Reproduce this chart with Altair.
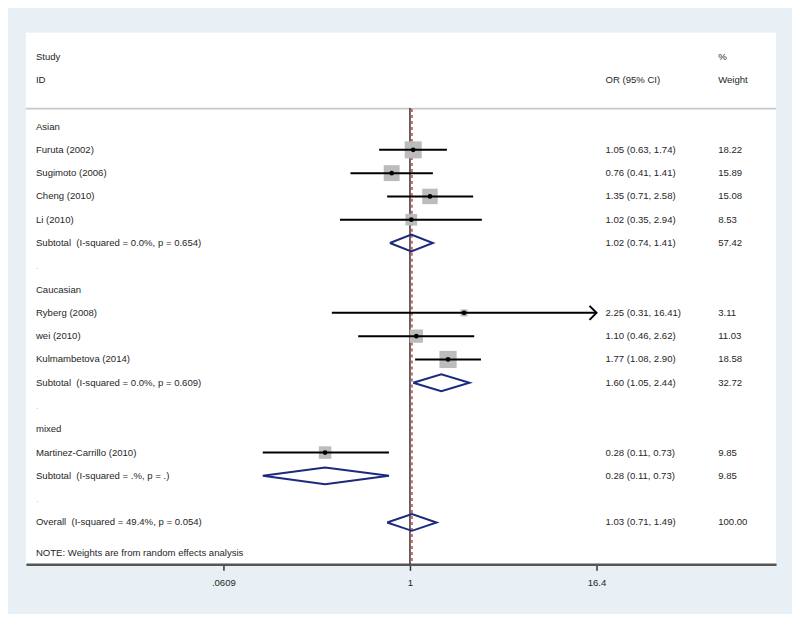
import altair as alt
import pandas as pd

# ---------------- data ----------------
study_labels = ["Furuta (2002)", "Sugimoto (2006)", "Cheng (2010)", "Li (2010)",
                "Ryberg (2008)", "wei (2010)", "Kulmambetova (2014)",
                "Martinez-Carrillo (2010)"]
study_rows = [1, 2, 3, 4, 8, 9, 10, 14]
study_or = [1.05, 0.76, 1.35, 1.02, 2.25, 1.10, 1.77, 0.28]
study_lo = [0.63, 0.41, 0.71, 0.35, 0.31, 0.46, 1.08, 0.11]
study_hi = [1.74, 1.41, 2.58, 2.94, 16.41, 2.62, 2.90, 0.73]
study_weight = [18.22, 15.89, 15.08, 8.53, 3.11, 11.03, 18.58, 9.85]

pooled_labels = ["Subtotal \u00a0(I-squared = 0.0%, p = 0.654)",
                 "Subtotal \u00a0(I-squared = 0.0%, p = 0.609)",
                 "Subtotal \u00a0(I-squared = .%, p = .)",
                 "Overall \u00a0(I-squared = 49.4%, p = 0.054)"]
pooled_rows = [5, 11, 15, 17]
pooled_or = [1.02, 1.60, 0.28, 1.03]
pooled_lo = [0.74, 1.05, 0.11, 0.71]
pooled_hi = [1.41, 2.44, 0.73, 1.49]
pooled_weight = [57.42, 32.72, 9.85, 100.00]

group_labels = ["Asian", "Caucasian", "mixed"]
group_rows = [0, 7, 13]
spacer_rows = [6, 12, 16]

header_left = ["Study", "ID"]
header_or = ["", "OR (95% CI)"]
header_weight = ["%", "Weight"]
header_rows = [-3, -2]
note_text = "NOTE: Weights are from random effects analysis"

tick_values = [0.0609, 1, 16.4]
tick_labels = [".0609", "1", "16.4"]
axis_max = 16.4
null_value = 1
overall_value = 1.03

# ---------------- layout constants ----------------
W, H = 752, 533
Y_DOMAIN = [-4.03, 18.8]
X_DOMAIN = [0.003155, 242.2]
FONT = "Liberation Sans"
FS = 9.6
TXT = "#262626"
NAVY = "#1c2a7e"

x_scale = alt.Scale(type="log", domain=X_DOMAIN, nice=False, clamp=False)
y_scale = alt.Scale(domain=Y_DOMAIN, reverse=True, nice=False, zero=False)
label_expr = " : ".join(
    f"datum.value == {v} ? '{l}'" for v, l in zip(tick_values, tick_labels)
) + " : ''"
x_axis = alt.Axis(values=tick_values, labelExpr=label_expr, title=None, grid=False,
                  domainColor="#555555", domainWidth=2.5, tickColor="#333333",
                  tickWidth=1.5, tickSize=6, labelFont=FONT, labelFontSize=FS,
                  labelColor=TXT, labelPadding=7)

def X(field):
    return alt.X(field, scale=x_scale, axis=x_axis)

def Y(field):
    return alt.Y(field, scale=y_scale, axis=None)

# ---------------- frames ----------------
studies = pd.DataFrame({"label": study_labels, "row": study_rows, "or": study_or,
                        "lo": study_lo, "hi": study_hi, "w": study_weight})
studies["hi_line"] = studies["hi"].clip(upper=axis_max)
studies["sq"] = studies["w"] * 16
arrows = studies[studies["hi"] > axis_max]

pooled = pd.DataFrame({"label": pooled_labels, "row": pooled_rows, "or": pooled_or,
                       "lo": pooled_lo, "hi": pooled_hi, "w": pooled_weight})

dia = []
hh = 0.36
for i, r in pooled.iterrows():
    pts = [(r["lo"], r["row"]), (r["or"], r["row"] - hh), (r["hi"], r["row"]),
           (r["or"], r["row"] + hh), (r["lo"], r["row"])]
    for k, (xv, yv) in enumerate(pts):
        dia.append({"id": i, "k": k, "x": xv, "row": yv})
dia = pd.DataFrame(dia)

left_text = pd.DataFrame(
    [{"t": t, "row": r, "c": TXT} for t, r in zip(header_left, header_rows)]
    + [{"t": t, "row": r, "c": TXT} for t, r in zip(group_labels, group_rows)]
    + [{"t": t, "row": r, "c": TXT} for t, r in zip(study_labels, study_rows)]
    + [{"t": t, "row": r, "c": TXT} for t, r in zip(pooled_labels, pooled_rows)]
    + [{"t": ".", "row": r, "c": "#c8c8c8"} for r in spacer_rows]
    + [{"t": note_text, "row": 18.33, "c": TXT}]
)

def fmt_ci(o, l, h):
    return f"{o:.2f} ({l:.2f}, {h:.2f})"

or_text = pd.DataFrame(
    [{"t": t, "row": r} for t, r in zip(header_or, header_rows) if t]
    + [{"t": fmt_ci(o, l, h), "row": r} for o, l, h, r in zip(study_or, study_lo, study_hi, study_rows)]
    + [{"t": fmt_ci(o, l, h), "row": r} for o, l, h, r in zip(pooled_or, pooled_lo, pooled_hi, pooled_rows)]
)
w_text = pd.DataFrame(
    [{"t": t, "row": r} for t, r in zip(header_weight, header_rows)]
    + [{"t": f"{w:.2f}", "row": r} for w, r in zip(study_weight, study_rows)]
    + [{"t": f"{w:.2f}", "row": r} for w, r in zip(pooled_weight, pooled_rows)]
)

sep = pd.DataFrame({"row": [-0.77]})
vlines = pd.DataFrame({"x": [null_value], "top": [-0.8], "bot": [Y_DOMAIN[1]]})
olines = pd.DataFrame({"x": [overall_value], "top": [-0.75], "bot": [Y_DOMAIN[1]]})

# ---------------- layers ----------------
sep_layer = alt.Chart(sep).mark_rule(color="#c9c9c9", strokeWidth=2).encode(
    y=Y("row:Q"), x=alt.value(0), x2=alt.value(W))

null_layer = alt.Chart(vlines).mark_rule(color="#3a3030", strokeWidth=1.5).encode(
    x=X("x:Q"), y=Y("top:Q"), y2="bot:Q")
overall_layer = alt.Chart(olines).mark_rule(color="#c8473f", strokeWidth=1.5,
                                            strokeDash=[3, 3]).encode(
    x=X("x:Q"), y=Y("top:Q"), y2="bot:Q")

squares = alt.Chart(studies).mark_square(color="#bcbcbc", opacity=1).encode(
    x=X("or:Q"), y=Y("row:Q"), size=alt.Size("sq:Q", scale=None, legend=None))

ci = alt.Chart(studies).mark_rule(color="black", strokeWidth=2).encode(
    x=X("lo:Q"), x2="hi_line:Q", y=Y("row:Q"))

dots = alt.Chart(studies).mark_circle(color="black", size=22, opacity=1).encode(
    x=X("or:Q"), y=Y("row:Q"))

arrow_layer = alt.Chart(arrows).mark_point(
    shape="M-1,-1L0,0L-1,1", filled=False, color="black", size=196,
    strokeWidth=2, opacity=1).encode(
    x=alt.X("hi_line:Q", scale=x_scale, axis=x_axis), y=Y("row:Q"))

diamonds = alt.Chart(dia).mark_line(color=NAVY, strokeWidth=2).encode(
    x=X("x:Q"), y=Y("row:Q"), detail="id:N", order="k:Q")

left_layer = alt.Chart(left_text).mark_text(
    align="left", baseline="middle", font=FONT, fontSize=FS).encode(
    x=alt.value(10), y=Y("row:Q"), text="t:N",
    color=alt.Color("c:N", scale=None, legend=None))

or_layer = alt.Chart(or_text).mark_text(
    align="left", baseline="middle", font=FONT, fontSize=FS, color=TXT).encode(
    x=alt.value(581), y=Y("row:Q"), text="t:N")

w_layer = alt.Chart(w_text).mark_text(
    align="left", baseline="middle", font=FONT, fontSize=FS, color=TXT).encode(
    x=alt.value(694), y=Y("row:Q"), text="t:N")

chart = alt.layer(
    sep_layer, null_layer, overall_layer, squares, ci, dots, arrow_layer,
    diamonds, left_layer, or_layer, w_layer
).properties(
    width=W, height=H,
    padding={"left": 17, "top": 24, "right": 15, "bottom": 26},
    background="#e8f0f6",
).configure_view(fill="white", stroke=None)

chart.save("out.html", embed_options={"renderer": "svg", "actions": False})
